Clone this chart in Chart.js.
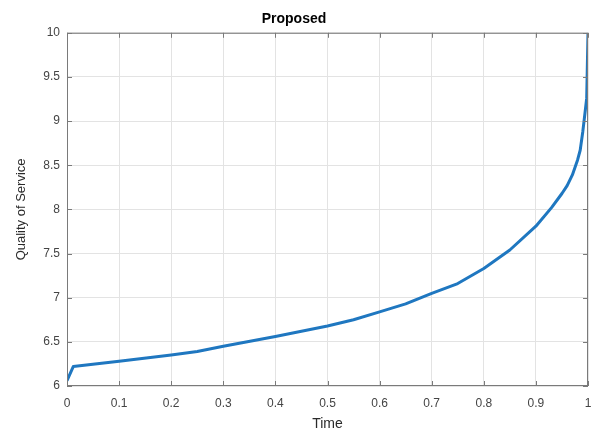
<!DOCTYPE html>
<html>
<head>
<meta charset="utf-8">
<script src="https://cdn.jsdelivr.net/npm/chart.js@4"></script>
<style>
  html, body { margin: 0; padding: 0; background: #fff; }
  #wrap { width: 593px; height: 433px; }
</style>
</head>
<body>
<div id="wrap"><canvas id="qos" width="593" height="433"></canvas></div>
<script>
// ── Data ─────────────────────────────────────────────────────────────────
const timeValues = [0, 0.012, 0.1, 0.2, 0.25, 0.3, 0.4, 0.5, 0.55, 0.6, 0.65, 0.7, 0.75, 0.8, 0.85, 0.9, 0.93, 0.95, 0.96, 0.97, 0.98, 0.985, 0.99, 0.994, 0.9975, 1.0];
const qosValues  = [6.06, 6.22, 6.28, 6.35, 6.39, 6.45, 6.56, 6.68, 6.75, 6.84, 6.93, 7.05, 7.16, 7.33, 7.54, 7.81, 8.02, 8.18, 8.27, 8.39, 8.56, 8.67, 8.88, 9.08, 9.26, 10.0];
const xTicks     = [0, 0.1, 0.2, 0.3, 0.4, 0.5, 0.6, 0.7, 0.8, 0.9, 1];
const yTicks     = [6, 6.5, 7, 7.5, 8, 8.5, 9, 9.5, 10];

const FONT = "'Liberation Sans', Arial, Helvetica, sans-serif";
const AXIS = '#7a7a7a';

// MATLAB-style box round the plot area, with short inward tick marks
const boxPlugin = {
  id: 'box',
  afterDatasetsDraw(chart) {
    const { ctx, chartArea: a, scales: { x, y } } = chart;
    ctx.save();
    ctx.strokeStyle = AXIS;
    ctx.lineWidth = 1;
    ctx.strokeRect(a.left + 0.5, a.top + 0.5, a.right - a.left - 1, a.bottom - a.top - 1);
    ctx.beginPath();
    for (const v of xTicks) {
      const px = Math.round(x.getPixelForValue(v)) + 0.5;
      ctx.moveTo(px, a.bottom); ctx.lineTo(px, a.bottom - 5);
      ctx.moveTo(px, a.top);    ctx.lineTo(px, a.top + 5);
    }
    for (const v of yTicks) {
      const py = Math.round(y.getPixelForValue(v)) + 0.5;
      ctx.moveTo(a.left, py);  ctx.lineTo(a.left + 5, py);
      ctx.moveTo(a.right, py); ctx.lineTo(a.right - 5, py);
    }
    ctx.stroke();
    ctx.restore();
  }
};

new Chart(document.getElementById('qos'), {
  type: 'scatter',
  data: {
    datasets: [{
      data: timeValues.map((t, i) => ({ x: t, y: qosValues[i] })),
      showLine: true,
      borderColor: '#1f77c0',
      borderWidth: 3,
      pointRadius: 0,
      tension: 0,
      borderJoinStyle: 'round',
      fill: false
    }]
  },
  options: {
    responsive: false,
    animation: false,
    layout: { padding: { top: 0, right: 5, bottom: 0, left: 0 } },
    plugins: {
      legend: { display: false },
      tooltip: { enabled: false },
      title: {
        display: true,
        text: 'Proposed',
        color: '#000',
        font: { family: FONT, size: 14, weight: 'bold', lineHeight: 1.2 },
        padding: { top: 11, bottom: 5 }
      }
    },
    scales: {
      x: {
        type: 'linear',
        min: 0, max: 1,
        afterBuildTicks: s => { s.ticks = xTicks.map(v => ({ value: v })); },
        afterFit: s => { s.height = 47; s.paddingLeft = 0; s.paddingRight = 0; },
        grid: { color: '#e3e3e3', drawTicks: false },
        border: { display: false },
        ticks: {
          color: '#444',
          padding: 10,
          font: { family: FONT, size: 12 },
          callback: v => String(v)
        },
        title: {
          display: true,
          text: 'Time',
          color: '#2a2a2a',
          font: { family: FONT, size: 14 },
          padding: { top: 2, bottom: 0 }
        }
      },
      y: {
        type: 'linear',
        min: 6, max: 10,
        afterBuildTicks: s => { s.ticks = yTicks.map(v => ({ value: v })); },
        afterFit: s => { s.width = 67; },
        grid: { color: '#e3e3e3', drawTicks: false },
        border: { display: false },
        ticks: {
          color: '#444',
          padding: 7,
          font: { family: FONT, size: 12 },
          callback: v => String(v)
        },
        title: {
          display: true,
          text: 'Quality of Service',
          color: '#2a2a2a',
          font: { family: FONT, size: 13 },
          padding: { top: 14, bottom: 6 }
        }
      }
    }
  },
  plugins: [boxPlugin]
});
</script>
</body>
</html>
